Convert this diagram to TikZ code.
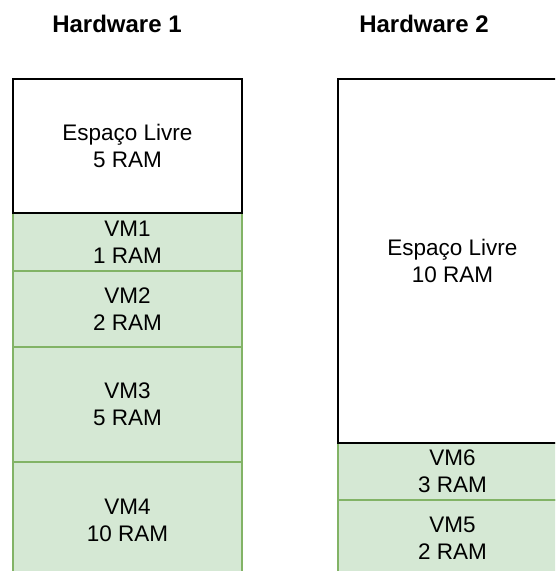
\documentclass[tikz,border=0pt]{standalone}
\usepackage{fontspec}
\setmainfont{Liberation Sans}

\definecolor{vmfill}{HTML}{D5E8D4}
\definecolor{vmline}{HTML}{82B366}

\tikzset{
    slot/.style={rectangle, anchor=north west, minimum width=229pt, inner sep=0pt,
        align=center, line width=1.8pt, font=\fontsize{22.5}{27}\selectfont},
    vm/.style={slot, fill=vmfill, draw=vmline},
    livre/.style={slot, fill=white, draw=black},
    hwtitle/.style={anchor=base, font=\bfseries\fontsize{24}{28}\selectfont}
}

\begin{document}
\begin{tikzpicture}[x=1pt, y=-1pt]
    \useasboundingbox (0,0) rectangle (555,571);
    \clip (0,0) rectangle (555,571);

    \node[hwtitle] (hw1) at (117,32) {Hardware 1};
    \node[hwtitle] (hw2) at (424,32) {Hardware 2};

    % Hardware 1
    \node[vm, minimum height=116pt] (vm4) at (12,461) {VM4\\10 RAM};
    \node[vm, minimum height=115pt] (vm3) at (12,346) {VM3\\5 RAM};
    \node[vm, minimum height=76pt] (vm2) at (12,270) {VM2\\2 RAM};
    \node[vm, minimum height=58pt] (vm1) at (12,212) {VM1\\1 RAM};
    \node[livre, minimum height=134pt] (livre1) at (12,78) {Espaço Livre\\5 RAM};

    % Hardware 2
    \node[vm, minimum height=76pt] (vm5) at (337,499) {VM5\\2 RAM};
    \node[vm, minimum height=57pt] (vm6) at (337,442) {VM6\\3 RAM};
    \node[livre, minimum height=364pt] (livre2) at (337,78) {Espaço Livre\\10 RAM};
\end{tikzpicture}
\end{document}
